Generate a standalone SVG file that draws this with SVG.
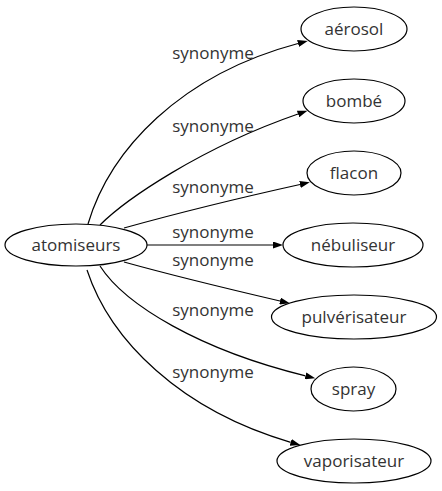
<svg xmlns="http://www.w3.org/2000/svg" width="442" height="491" viewBox="0 0 442 491">
<style>
  .node ellipse { fill: #fff; stroke: #000; stroke-width: 1.2; }
  .node text { font-family: "Open Sans", "DejaVu Sans", sans-serif; font-size: 17px; fill: #333; text-anchor: middle; }
  .edges path { fill: none; stroke: #000; stroke-width: 1.2; marker-end: url(#arrow); }
  .edges text { font-family: "Open Sans", "DejaVu Sans", sans-serif; font-size: 17px; fill: #333; text-anchor: middle; }
</style>
<defs>
  <marker id="arrow" viewBox="0 0 10 7" refX="0" refY="3.5" markerWidth="10" markerHeight="7" markerUnits="userSpaceOnUse" orient="auto">
    <path d="M0,0 L10,3.5 L0,7 Z" fill="#000" stroke="none"/>
  </marker>
</defs>
<rect width="442" height="491" fill="#fff"/>
<g id="edges" class="edges">
  <path d="M88,224 C110,150 180,75 298,43.5"/>
  <text x="213" y="59">synonyme</text>
  <path d="M100,225 C125,200 200,148 298,114"/>
  <text x="213" y="132">synonyme</text>
  <path d="M124,228 C160,218 230,200 300,184.5"/>
  <text x="213" y="193">synonyme</text>
  <path d="M147,245 L273,245"/>
  <text x="213" y="238">synonyme</text>
  <path d="M124,262 C160,272 220,287 280,301"/>
  <text x="213" y="266">synonyme</text>
  <path d="M100,266 C125,305 200,350 305.5,375.8"/>
  <text x="213" y="316">synonyme</text>
  <path d="M87,270 C110,340 180,410 290.7,442.3"/>
  <text x="213" y="378">synonyme</text>
</g>
<g id="atomiseurs" class="node"><ellipse cx="76" cy="245" rx="71" ry="21"/><text x="76" y="251">atomiseurs</text></g>
<g id="aerosol" class="node"><ellipse cx="354" cy="29" rx="53" ry="22"/><text x="354" y="35">aérosol</text></g>
<g id="bombe" class="node"><ellipse cx="354" cy="101" rx="51" ry="22"/><text x="354" y="107">bombé</text></g>
<g id="flacon" class="node"><ellipse cx="354" cy="173" rx="47" ry="22"/><text x="354" y="179">flacon</text></g>
<g id="nebuliseur" class="node"><ellipse cx="353" cy="245" rx="70" ry="22"/><text x="353" y="251">nébuliseur</text></g>
<g id="pulverisateur" class="node"><ellipse cx="354" cy="317" rx="82.5" ry="22"/><text x="354" y="323">pulvérisateur</text></g>
<g id="spray" class="node"><ellipse cx="353.5" cy="389" rx="42.5" ry="22"/><text x="353.5" y="395">spray</text></g>
<g id="vaporisateur" class="node"><ellipse cx="354" cy="461" rx="77" ry="22"/><text x="354" y="467">vaporisateur</text></g>
</svg>
